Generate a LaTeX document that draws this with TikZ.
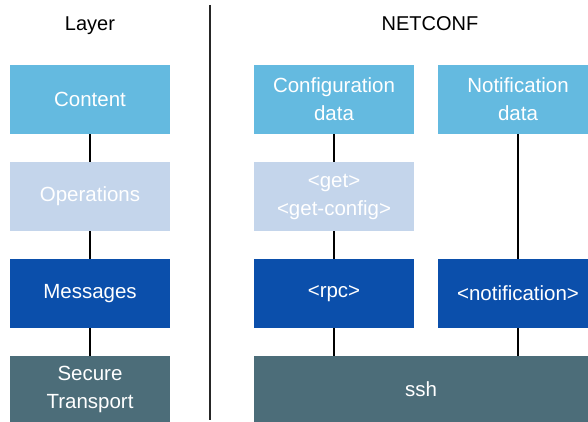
\documentclass[tikz,border=0pt]{standalone}
\usepackage{fontspec}
\setmainfont{Liberation Sans}
\definecolor{cContent}{HTML}{64BAE0}
\definecolor{cOps}{HTML}{C4D5EB}
\definecolor{cMsg}{HTML}{0B4FAB}
\definecolor{cSec}{HTML}{4C6D79}
\begin{document}
\begin{tikzpicture}[x=1pt,y=-1pt,
  box/.style={rectangle, minimum width=160pt, minimum height=69pt, inner sep=0pt, text=white, align=center, font=\fontsize{20.5}{28}\selectfont},
  contentbox/.style={box, fill=cContent},
  opsbox/.style={box, fill=cOps},
  msgbox/.style={box, fill=cMsg},
  secbox/.style={box, fill=cSec, minimum height=66pt},
  head/.style={font=\fontsize{20}{24}\selectfont, text=black, inner sep=0pt},
  conn/.style={draw=black, line width=1.8pt},
  divider/.style={draw=black!85, line width=1.8pt}]
\clip (0,0) rectangle (588,422);
\fill[white] (0,0) rectangle (588,422);
% headers
\node[head, anchor=base] (hlayer) at (90,31) {Layer};
\node[head, anchor=base] (hnet) at (430,31) {NETCONF};
% divider
\coordinate (d1) at (210,5);
\coordinate (d2) at (210,420);
\draw[divider] (d1) -- (d2);
% left column
\node[contentbox] (content) at (90,99.5) {Content};
\node[opsbox] (ops) at (90,196.5) {Operations};
\node[msgbox] (msg) at (90,293.5) {Messages};
\node[secbox] (sec) at (90,389) {Secure\\Transport};
% middle column
\node[contentbox] (conf) at (334,99.5) {Configuration\\data};
\node[opsbox] (get) at (334,196.5) {<get>\\<get-config>};
\node[msgbox] (rpc) at (334,293.5) {<rpc>};
% right column
\node[contentbox] (ndata) at (518,99.5) {Notification\\data};
\node[msgbox] (notif) at (518,293.5) {<notification>};
% ssh
\node[secbox, minimum width=334pt] (ssh) at (421,389) {ssh};
% connectors
\draw[conn] (content.south) -- (ops.north);
\draw[conn] (ops.south) -- (msg.north);
\draw[conn] (msg.south) -- (sec.north);
\draw[conn] (conf.south) -- (get.north);
\draw[conn] (get.south) -- (rpc.north);
\draw[conn] (rpc.south) -- (rpc.south |- ssh.north);
\draw[conn] (ndata.south) -- (notif.north);
\draw[conn] (notif.south) -- (notif.south |- ssh.north);
\end{tikzpicture}
\end{document}
